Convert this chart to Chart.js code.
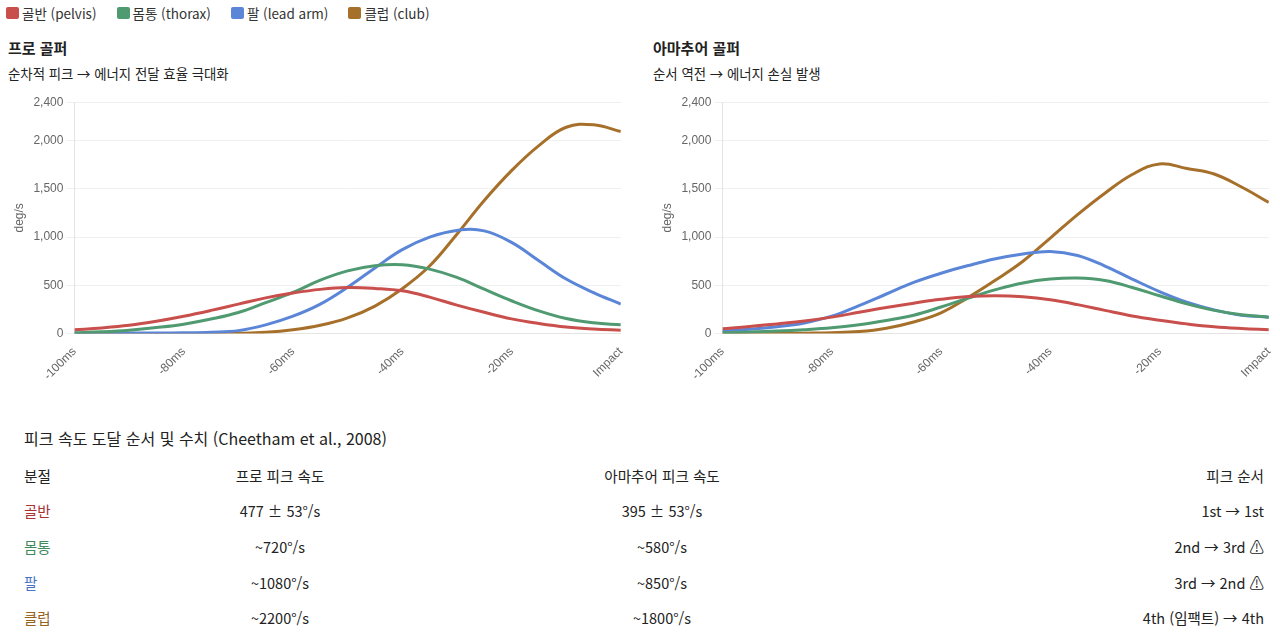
<!DOCTYPE html>
<html lang="ko">
<head>
<meta charset="utf-8">
<script src="https://cdn.jsdelivr.net/npm/chart.js@4.4.1/dist/chart.umd.min.js"></script>
<style>
  html,body{margin:0;padding:0;background:#fff;}
  body{width:1280px;height:643px;overflow:hidden;position:relative;font-family:"Noto Sans CJK KR","Noto Sans",sans-serif;color:#222;}
  #legend{position:absolute;left:6px;top:3px;display:flex;gap:20px;font-size:13.5px;color:#333;line-height:20px;}
  #legend .it{display:flex;align-items:center;gap:3px;}
  #legend .bx{width:13px;height:12px;border-radius:2px;display:inline-block;}
  .col{position:absolute;top:0;width:626px;}
  .col .ttl{position:absolute;left:0;top:37px;font-size:15px;font-weight:bold;line-height:22px;white-space:nowrap;}
  .col .sub{position:absolute;left:0;top:64px;font-size:13.4px;line-height:18px;white-space:nowrap;color:#222;}
  .col .cw{position:absolute;left:0;top:92px;width:626px;height:294px;}
  #tblwrap{position:absolute;left:24px;top:426px;width:1240px;}
  #tblwrap .tt{font-size:16px;line-height:24px;color:#222;}
  table{border-collapse:collapse;table-layout:fixed;width:1240px;margin-top:8px;font-size:14.5px;}
  th,td{padding:0;height:35.6px;line-height:20px;white-space:nowrap;}
  th{font-weight:normal;font-size:14.6px;color:#222;}
  .c1{text-align:left;}.c2{text-align:center;}.c3{text-align:center;}.c4{text-align:right;}
</style>
</head>
<body>
<div id="legend"></div>
<div class="col" style="left:8px;">
  <div class="ttl">프로 골퍼</div>
  <div class="sub">순차적 피크 → 에너지 전달 효율 극대화</div>
  <div class="cw"><canvas id="c1"></canvas></div>
</div>
<div class="col" style="left:656px;">
  <div class="ttl" style="left:-3px;">아마추어 골퍼</div>
  <div class="sub" style="left:-3px;">순서 역전 → 에너지 손실 발생</div>
  <div class="cw"><canvas id="c2"></canvas></div>
</div>
<div id="tblwrap">
  <div class="tt">피크 속도 도달 순서 및 수치 (Cheetham et al., 2008)</div>
  <table>
    <colgroup><col style="width:136px"><col style="width:240px"><col style="width:524px"><col style="width:340px"></colgroup>
    <thead><tr id="hdr"></tr></thead>
    <tbody id="tb"></tbody>
  </table>
</div>
<script>
// ---- data ----
const segmentLabels = ['골반 (pelvis)', '몸통 (thorax)', '팔 (lead arm)', '클럽 (club)'];
const segmentShort = ['골반', '몸통', '팔', '클럽'];
const lineColors = ['#c94f4c', '#4f9a70', '#5b86d8', '#a6702a'];
const textColors = ['#a83434', '#3f8a5e', '#4a74c8', '#95621f'];

const timeMs = [-100,-95,-90,-85,-80,-75,-70,-65,-60,-55,-50,-45,-40,-35,-30,-25,-20,-15,-10,-5,0];

// 프로 골퍼 (deg/s)
const proPelvis = [38,58,86,128,180,240,305,370,420,458,477,468,443,378,295,220,152,104,67,46,35];
const proThorax = [7,18,35,62,97,150,218,320,426,554,650,703,713,668,582,460,340,235,156,112,90];
const proArm    = [3,4,5,6,8,14,30,90,180,305,480,680,870,1000,1070,1065,945,755,565,425,305];
const proClub   = [0,0,0,0,0,1,3,12,38,85,162,285,465,700,1030,1380,1690,1950,2140,2165,2095];

// 아마추어 골퍼 (deg/s)
const amPelvis = [50,72,100,130,170,220,270,315,355,383,392,381,350,300,240,182,138,100,70,52,40];
const amThorax = [9,15,25,40,60,90,135,190,275,368,455,525,565,576,550,478,392,308,240,195,170];
const amArm    = [26,45,70,110,180,290,410,530,625,705,775,825,852,810,700,565,435,325,245,190,170];
const amClub   = [0,1,2,4,8,20,55,120,215,375,555,750,990,1234,1456,1650,1760,1712,1655,1520,1360];

const yTickValues = [0, 500, 1000, 1500, 2000, 2400];
const xTickValues = [-100, -80, -60, -40, -20, 0];

// table
const tableHeaders = ['분절', '프로 피크 속도', '아마추어 피크 속도', '피크 순서'];
const proPeakText = ['477 ± 53°/s', '~720°/s', '~1080°/s', '~2200°/s'];
const amPeakText  = ['395 ± 53°/s', '~580°/s', '~850°/s', '~1800°/s'];
const orderText   = ['1st → 1st', '2nd → 3rd ⚠', '3rd → 2nd ⚠', '4th (임팩트) → 4th'];

// ---- legend ----
const lg = document.getElementById('legend');
segmentLabels.forEach((l,i)=>{
  const it = document.createElement('span'); it.className='it';
  const b = document.createElement('span'); b.className='bx'; b.style.background=lineColors[i];
  const t = document.createElement('span'); t.textContent=l;
  it.appendChild(b); it.appendChild(t); lg.appendChild(it);
});

// ---- table ----
const hdr = document.getElementById('hdr');
tableHeaders.forEach((h,i)=>{ const th=document.createElement('th'); th.className='c'+(i+1); th.textContent=h; hdr.appendChild(th); });
const tb = document.getElementById('tb');
segmentShort.forEach((s,i)=>{
  const tr=document.createElement('tr');
  [s, proPeakText[i], amPeakText[i], orderText[i]].forEach((v,j)=>{
    const td=document.createElement('td'); td.className='c'+(j+1); td.textContent=v;
    if(j===0) td.style.color=textColors[i];
    tr.appendChild(td);
  });
  tb.appendChild(tr);
});

// ---- charts ----
function makeChart(id, series){
  return new Chart(document.getElementById(id), {
    type:'line',
    data:{
      datasets: series.map((arr,i)=>({
        label: segmentLabels[i],
        data: timeMs.map((t,j)=>({x:t, y:arr[j]})),
        borderColor: lineColors[i],
        backgroundColor: lineColors[i],
        borderWidth: 3,
        pointRadius: 0,
        tension: 0.4,
        fill: false
      }))
    },
    options:{
      responsive:true, maintainAspectRatio:false, animation:false,
      plugins:{legend:{display:false}, tooltip:{enabled:false}},
      scales:{
        x:{type:'linear', min:xTickValues[0], max:xTickValues[xTickValues.length-1],
           grid:{display:false}, border:{color:'#e4e4e4'},
           afterBuildTicks: ax => { ax.ticks = xTickValues.map(v=>({value:v})); },
           ticks:{minRotation:45, maxRotation:45, color:'#666', font:{size:12},
                  callback:v=> v===0 ? 'Impact' : v+'ms'}},
        y:{min:yTickValues[0], max:yTickValues[yTickValues.length-1],
           afterBuildTicks: ax => { ax.ticks = yTickValues.map(v=>({value:v})); },
           ticks:{color:'#666', font:{size:12}, callback:v=> v.toLocaleString('en-US')},
           grid:{color:'#f0f0f0'}, border:{color:'#e4e4e4'},
           title:{display:true, text:'deg/s', color:'#666', font:{size:12}}}
      }
    }
  });
}
makeChart('c1', [proPelvis, proThorax, proArm, proClub]);
makeChart('c2', [amPelvis, amThorax, amArm, amClub]);
</script>
</body>
</html>
